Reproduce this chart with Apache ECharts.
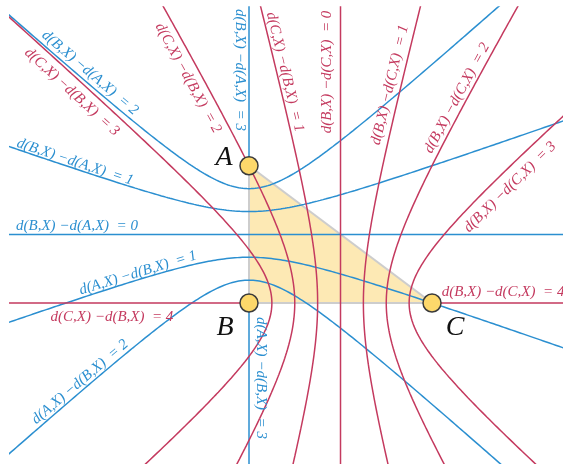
<!DOCTYPE html>
<html><head><meta charset="utf-8">
<script src="https://cdn.jsdelivr.net/npm/echarts@6/dist/echarts.min.js"></script>
<style>html,body{margin:0;padding:0;background:#fff}#c{width:563px;height:464px}</style>
</head><body><div id="c"></div>
<script>
// ---- data ----
const pointNames = ['A', 'B', 'C'];
const pointA = [0, 3];
const pointB = [0, 0];
const pointC = [4, 0];
// blue family: foci A and B
const kBminusA = [0, 1, 2, 3];   // d(B,X) - d(A,X) = k
const kAminusB = [1, 2, 3];      // d(A,X) - d(B,X) = k
// red family: foci B and C
const kCminusB = [1, 2, 3, 4];   // d(C,X) - d(B,X) = k
const kBminusC = [0, 1, 2, 3, 4];// d(B,X) - d(C,X) = k
// view extent (data units)
const xRange = [-5.224, 6.863];
const yRange = [-3.519, 6.47];

const BLUE = '#2b8fd0', RED = '#c43a5f';
const P = {A: pointA, B: pointB, C: pointC};

// branch of hyperbola near F1 where d(F2,X) - d(F1,X) = k
function branch(F1, F2, k) {
  const M = [(F1[0] + F2[0]) / 2, (F1[1] + F2[1]) / 2];
  const dx = [F1[0] - M[0], F1[1] - M[1]];
  const c = Math.hypot(dx[0], dx[1]);
  const u = [dx[0] / c, dx[1] / c], v = [-u[1], u[0]];
  const pts = [];
  if (k === 0) {
    for (let s = -30; s <= 30; s += 0.05) pts.push([M[0] + v[0] * s, M[1] + v[1] * s]);
  } else if (k >= 2 * c - 1e-9) {
    for (let s = 0; s <= 30; s += 0.05) pts.push([F1[0] + u[0] * s, F1[1] + u[1] * s]);
  } else {
    const a = k / 2, b = Math.sqrt(c * c - a * a);
    for (let t = -5; t <= 5.0001; t += 0.01) {
      const ca = a * Math.cosh(t), sb = b * Math.sinh(t);
      pts.push([M[0] + u[0] * ca + v[0] * sb, M[1] + u[1] * ca + v[1] * sb]);
    }
  }
  return pts;
}

const curves = {};
function addFamily(nearName, farName, ks, color) {
  ks.forEach(k => {
    const key = farName + nearName + k;
    curves[key] = {
      points: branch(P[nearName], P[farName], k), color,
      text: 'd(' + farName + ',X) \u2212d(' + nearName + ',X)  = ' + k
    };
  });
}
addFamily('A', 'B', kBminusA, BLUE);
addFamily('B', 'A', kAminusB, BLUE);
addFamily('B', 'C', kCminusB, RED);
addFamily('C', 'B', kBminusC, RED);

// label layout (centre in data units, rotation follows the curve)
const labelLayout = [
  {curve: 'BA2', at: [-3.475, 5.03]},
  {curve: 'CB3', at: [-3.869, 4.612]},
  {curve: 'CB2', at: [-1.333, 4.918]},
  {curve: 'BA3', at: [-0.197, 5.093], flip: true},
  {curve: 'CB1', at: [0.787, 5.049]},
  {curve: 'BC0', at: [1.705, 5.049]},
  {curve: 'BC1', at: [3.082, 4.765]},
  {curve: 'BC2', at: [4.546, 4.481]},
  {curve: 'BC3', at: [5.705, 2.536]},
  {curve: 'BA1', at: [-3.803, 3.082]},
  {curve: 'BA0', at: [-3.760, 1.683]},
  {curve: 'AB1', at: [-2.426, 0.656]},
  {curve: 'CB4', at: [-2.995, -0.306]},
  {curve: 'AB2', at: [-3.694, -1.727]},
  {curve: 'AB3', at: [0.262, -1.639], flip: true},
  {curve: 'BC4', at: [5.552, 0.240]}
];
const pointLabelOffset = {A: [-25, -8], B: [-24, 25], C: [23, 25]};

const chart = echarts.init(document.getElementById('c'), null, {renderer: 'canvas'});
const series = [];
series.push({
  type: 'custom', silent: true, z: 1, animation: false,
  data: [[0, 0]],
  renderItem: (params, api) => ({
    type: 'polygon',
    shape: {points: [pointA, pointB, pointC].map(p => api.coord(p))},
    style: {fill: '#fde9b4', stroke: '#cdcdcd', lineWidth: 2}
  })
});
Object.keys(curves).forEach(key => {
  series.push({
    type: 'line', data: curves[key].points, showSymbol: false, symbol: 'none',
    silent: true, animation: false, clip: true, z: 2,
    lineStyle: {color: curves[key].color, width: 1.5}
  });
});
series.push({
  type: 'scatter', data: [pointA, pointB, pointC], symbolSize: 18, z: 10, silent: true, animation: false,
  itemStyle: {color: '#fdd86b', borderColor: '#3a3a3a', borderWidth: 1.5, opacity: 1}
});

const hiddenAxis = r => ({type: 'value', min: r[0], max: r[1], show: false,
  splitLine: {show: false}, axisLine: {show: false}, axisTick: {show: false}, axisLabel: {show: false}});

chart.setOption({
  animation: false,
  backgroundColor: '#ffffff',
  grid: {left: 10, top: 7, right: 0, bottom: 0, containLabel: false},
  xAxis: hiddenAxis(xRange),
  yAxis: hiddenAxis(yRange),
  series
});

const FONT = 'italic 15px "Liberation Serif", "DejaVu Serif", serif';
const graphics = [];
labelLayout.forEach(spec => {
  const cv = curves[spec.curve];
  const T = chart.convertToPixel({gridIndex: 0}, spec.at);
  const px = cv.points.map(p => chart.convertToPixel({gridIndex: 0}, p));
  let best = 1, bd = Infinity;
  for (let i = 1; i < px.length - 1; i++) {
    const d = Math.hypot(px[i][0] - T[0], px[i][1] - T[1]);
    if (d < bd) { bd = d; best = i; }
  }
  const p1 = px[best - 1], p2 = px[best + 1];
  let ang = Math.atan2(-(p2[1] - p1[1]), p2[0] - p1[0]);
  while (ang > Math.PI / 2 + 1e-6) ang -= Math.PI;
  while (ang <= -Math.PI / 2 + 1e-6) ang += Math.PI;
  if (spec.flip) ang -= Math.PI;
  graphics.push({
    type: 'text', x: T[0], y: T[1], rotation: ang, z: 100, silent: true,
    style: {text: cv.text, font: FONT, fill: cv.color, align: 'center', verticalAlign: 'middle'}
  });
});
pointNames.forEach(n => {
  const p = chart.convertToPixel({gridIndex: 0}, P[n]);
  const o = pointLabelOffset[n];
  graphics.push({
    type: 'text', x: p[0] + o[0], y: p[1] + o[1], z: 100, silent: true,
    style: {text: n, font: 'italic 28px "Liberation Serif", "DejaVu Serif", serif', fill: '#111',
      align: 'center', verticalAlign: 'middle'}
  });
});
chart.setOption({graphic: graphics});
</script></body></html>
